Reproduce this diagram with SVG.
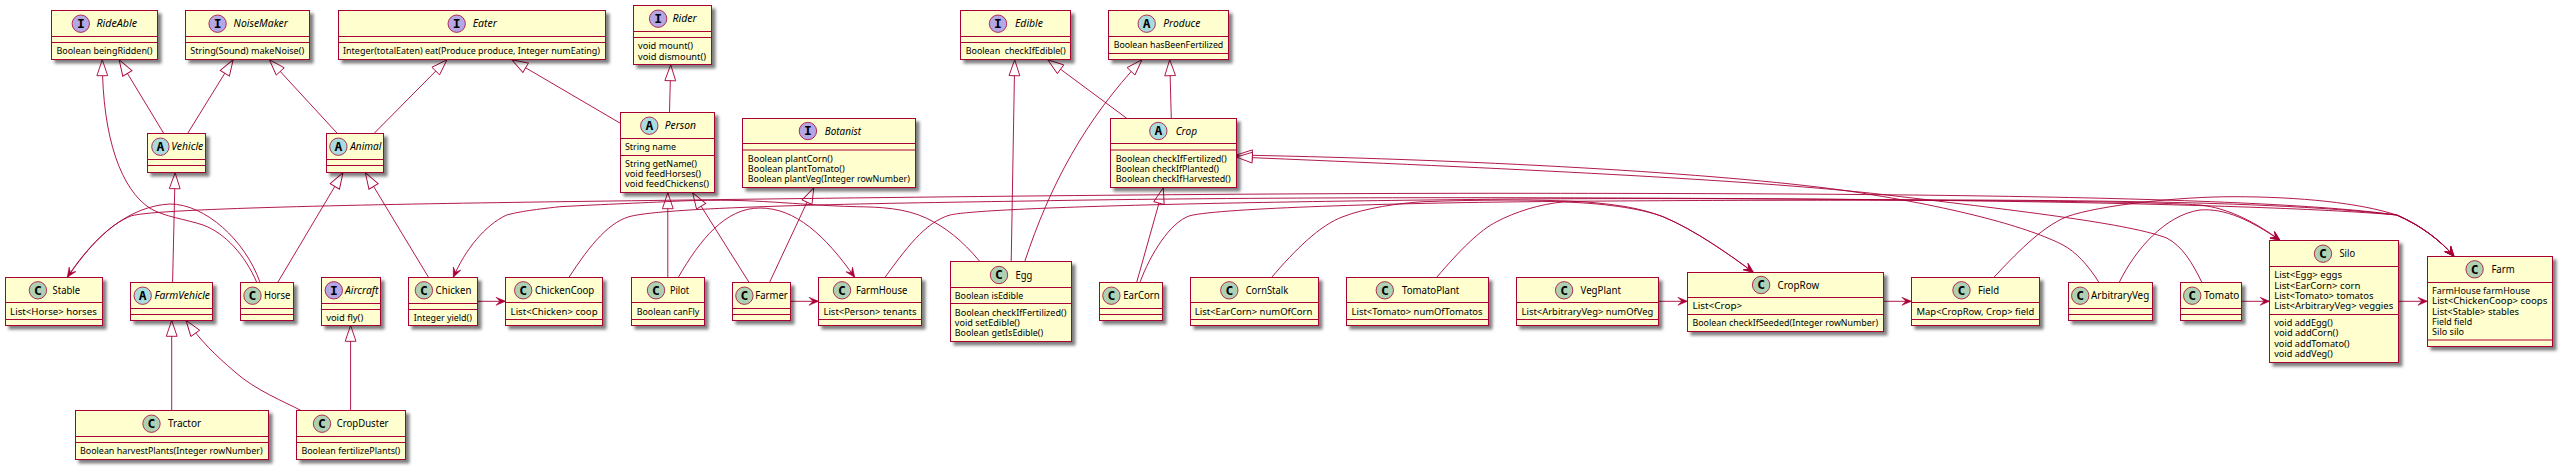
<svg xmlns="http://www.w3.org/2000/svg" width="2563" height="469" viewBox="0 0 2563 469">
<style>
.b{fill:#FEFECE;stroke:#A80036;stroke-width:1;filter:url(#s)}
.l{stroke:#A80036;stroke-width:1;fill:none}
.ci{fill:#B4A7E5;stroke:#A80036;stroke-width:.8}
.ca{fill:#A9DCDF;stroke:#A80036;stroke-width:.8}
.cc{fill:#ADD1B2;stroke:#A80036;stroke-width:.8}
.g{font-family:"DejaVu Sans Mono",monospace;font-weight:bold;font-size:13px;text-anchor:middle;fill:#000}
.n{font-family:"Noto Sans","Liberation Sans",sans-serif;font-size:10px;fill:#000}
.i{font-style:italic}
.m{font-family:"Noto Sans","Liberation Sans",sans-serif;font-size:9px;fill:#000;white-space:pre}
.c{fill:none;stroke:#A80036;stroke-width:.9}
.ext{marker-end:url(#tri)}
.asc{marker-end:url(#arr)}
</style>
<defs>
<filter id="s" x="-10%" y="-10%" width="125%" height="130%"><feDropShadow dx="3.5" dy="3.5" stdDeviation="1.5" flood-color="#000" flood-opacity=".5"/></filter>
<marker id="tri" markerUnits="userSpaceOnUse" markerWidth="20" markerHeight="16" refX="17" refY="7" orient="auto" overflow="visible"><path d="M17,7 L1,1.6 L1,12.4 Z" fill="#fff" stroke="#A80036" stroke-width=".9"/></marker>
<marker id="arr" markerUnits="userSpaceOnUse" markerWidth="12" markerHeight="10" refX="10" refY="5" orient="auto" overflow="visible"><path d="M10,5 L0.5,1 L4.5,5 L0.5,9 Z" fill="#A80036" stroke="#A80036" stroke-width=".6"/></marker>
</defs>
<g id="connectors">
<path class="c ext" d="M256.7,282.3 C245,255 225,233 203,225 C185,219 165,217 150,208.3 C122,190 102.3,140 102.3,59.7"/>
<path class="c ext" d="M163.7,133.3 L119.1,59.7"/>
<path class="c ext" d="M187.7,133.3 L233.2,59.7"/>
<path class="c ext" d="M337.2,133.3 L269.4,59.7"/>
<path class="c ext" d="M374.2,133.3 L447,59.7"/>
<path class="c ext" d="M620.4,123.3 L511.8,59.7"/>
<path class="c ext" d="M669.5,112.3 L670.7,64.7"/>
<path class="c ext" d="M172.6,282.3 L175.1,172.7"/>
<path class="c ext" d="M277.8,282.3 L343,172.7"/>
<path class="c ext" d="M428.5,277.3 L365.3,172.7"/>
<path class="c ext" d="M171.7,410.7 L171.7,320.3"/>
<path class="c ext" d="M301.4,410.7 C285,402 255,390 235,372 C215,355 200,340 186,320.3"/>
<path class="c ext" d="M350.6,410.7 L350.6,325.3"/>
<path class="c ext" d="M667.8,277.3 L667.8,192.7"/>
<path class="c ext" d="M749,282.3 L692.6,192.7"/>
<path class="c ext" d="M769.6,282.3 L813.8,187.7"/>
<path class="c ext" d="M1011.2,261.7 L1014.7,59.7"/>
<path class="c ext" d="M1024.7,261.7 C1050,185 1085,120 1142,59.7"/>
<path class="c ext" d="M1126.7,118.3 L1047.7,59.7"/>
<path class="c ext" d="M1171.3,118.3 L1169.7,59.7"/>
<path class="c ext" d="M1136.7,282.3 L1163.3,187.7"/>
<path class="c ext" d="M2098.9,282.3 C2088,265 2076,252 2063,245 C2030,228 1960,208 1853,191.7 C1740,175 1500,160 1236.3,155"/>
<path class="c ext" d="M2201.8,282.3 C2192,262 2182,246 2166.7,238 C2130,224 2030,212 1887,195 C1760,180 1500,168 1236.3,157"/>
<path class="c asc" d="M260,282.3 C245,240 205,204 170,204 C130,206 95,235 67.3,277.3"/>
<path class="c asc" d="M67.3,277.3 C90,245 110,224 131.7,215.7 C160,208 400,204 560,201.7 C800,198.5 1200,193 1520,193.3 C1800,193.5 2250,194 2396.7,215 C2420,225 2440,240 2454,256.3"/>
<path class="c asc" d="M569,277.3 C590,245 610,220 633.3,215.7 C680,206 900,203 1030,201 C1250,197 1520,197 1800,199 C2000,201 2250,198 2396.7,215 C2420,225 2440,240 2454,256.3"/>
<path class="c asc" d="M885,277.3 C905,250 925,222 950,215 C980,208 1200,202 1520,199 C1800,197 2250,202 2396.7,215 C2420,225 2440,240 2454,256.3"/>
<path class="c asc" d="M1993.9,277.3 C2015,255 2040,228 2066.7,216.7 C2100,205 2180,196.7 2233,196.7 C2300,196.7 2360,203 2396.7,215 C2420,225 2440,240 2454,256.3"/>
<path class="c asc" d="M980,261.7 C962,240 945,227 926.7,218.3 C905,208 880,207 856.7,206.7 C790,205 760,198 680,201 C640,203 590,205 560,206.7 C530,210 518,212 506.7,215 C485,225 465,250 453.3,277.3"/>
<path class="c asc" d="M678.3,277.3 C700,240 725,208 760,208 C795,208 825,235 854.7,277.3"/>
<path class="c asc" d="M1140,282.3 C1150,255 1170,222 1190,215.7 C1220,208 1400,203 1530,201.7 C1800,199 2130,200 2200,205 C2228,208 2255,222 2280,240.3"/>
<path class="c asc" d="M2119.3,282.3 C2135,250 2165,215 2200,210 C2225,208 2250,220 2280,240.3"/>
<path class="c asc" d="M1271.7,277.3 C1295,250 1320,225 1343,216.7 C1365,208 1400,203 1423,201.7 C1470,200 1540,199 1586.7,202 C1620,205 1640,208 1663,216.7 C1695,230 1730,255 1753.3,272.3"/>
<path class="c asc" d="M1436.7,277.3 C1460,250 1480,230 1496.7,221.7 C1515,212 1540,204 1563,202 C1600,203 1640,208 1663,216.7 C1695,230 1730,255 1753.3,272.3"/>
<path class="c asc" d="M477.7,301.3 L505.5,301.3"/>
<path class="c asc" d="M790.3,301.3 L818.5,301.3"/>
<path class="c asc" d="M1658.4,301.3 L1687.4,301.3"/>
<path class="c asc" d="M1883.6,301.3 L1911.4,301.3"/>
<path class="c asc" d="M2241.4,301.3 L2269.6,301.3"/>
<path class="c asc" d="M2398.4,301.3 L2427.4,301.3"/>
</g>
<g id="RideAble"><rect class="b" x="51.5" y="10.5" width="106" height="49"/><path class="l" d="M51.5,36.5H157.5M51.5,42.5H157.5"/><circle class="ci" cx="80.8" cy="23.7" r="8.7"/><text class="g" x="80.8" y="28">I</text><text class="n i" x="96.4" y="27.3" textLength="40.8" lengthAdjust="spacingAndGlyphs">RideAble</text><text class="m" x="56.4" y="54.4" textLength="96" lengthAdjust="spacingAndGlyphs">Boolean beingRidden()</text></g>
<g id="NoiseMaker"><rect class="b" x="185.5" y="10.5" width="124" height="49"/><path class="l" d="M185.5,36.5H309.5M185.5,42.5H309.5"/><circle class="ci" cx="217.6" cy="23.7" r="8.7"/><text class="g" x="217.6" y="28">I</text><text class="n i" x="233.6" y="27.3" textLength="54.3" lengthAdjust="spacingAndGlyphs">NoiseMaker</text><text class="m" x="190.2" y="54.4" textLength="114" lengthAdjust="spacingAndGlyphs">String(Sound) makeNoise()</text></g>
<g id="Eater"><rect class="b" x="338.5" y="10.5" width="267" height="49"/><path class="l" d="M338.5,36.5H605.5M338.5,42.5H605.5"/><circle class="ci" cx="456.7" cy="23.7" r="8.7"/><text class="g" x="456.7" y="28">I</text><text class="n i" x="472.7" y="27.3" textLength="24.3" lengthAdjust="spacingAndGlyphs">Eater</text><text class="m" x="343" y="54.4" textLength="257" lengthAdjust="spacingAndGlyphs">Integer(totalEaten) eat(Produce produce, Integer numEating)</text></g>
<g id="Rider"><rect class="b" x="633.5" y="5.5" width="78" height="59"/><path class="l" d="M633.5,31.5H711.5M633.5,37.5H711.5"/><circle class="ci" cx="658.1" cy="18.7" r="8.7"/><text class="g" x="658.1" y="23">I</text><text class="n i" x="672.4" y="22.4" textLength="24.4" lengthAdjust="spacingAndGlyphs">Rider</text><text class="m" x="638" y="49.3" textLength="55" lengthAdjust="spacingAndGlyphs">void mount()</text><text class="m" x="638" y="59.7" textLength="68" lengthAdjust="spacingAndGlyphs">void dismount()</text></g>
<g id="Edible"><rect class="b" x="960.5" y="10.5" width="110" height="49"/><path class="l" d="M960.5,36.5H1070.5M960.5,42.5H1070.5"/><circle class="ci" cx="998" cy="23.7" r="8.7"/><text class="g" x="998" y="28">I</text><text class="n i" x="1015" y="27.3" textLength="28" lengthAdjust="spacingAndGlyphs">Edible</text><text class="m" x="965.7" y="54.4" textLength="100" lengthAdjust="spacingAndGlyphs" xml:space="preserve">Boolean  checkIfEdible()</text></g>
<g id="Produce"><rect class="b" x="1108.5" y="10.5" width="120" height="49"/><path class="l" d="M1108.5,36.5H1228.5M1108.5,53.5H1228.5"/><circle class="ca" cx="1146.7" cy="23.7" r="8.7"/><text class="g" x="1146.7" y="28">A</text><text class="n i" x="1163.3" y="27.3" textLength="37" lengthAdjust="spacingAndGlyphs">Produce</text><text class="m" x="1113.7" y="48" textLength="109.6" lengthAdjust="spacingAndGlyphs">Boolean hasBeenFertilized</text></g>
<g id="Vehicle"><rect class="b" x="147.5" y="133.5" width="58" height="39"/><path class="l" d="M147.5,159.5H205.5M147.5,165.5H205.5"/><circle class="ca" cx="160.4" cy="146.7" r="8.7"/><text class="g" x="160.4" y="151">A</text><text class="n i" x="171.3" y="150.4" textLength="32" lengthAdjust="spacingAndGlyphs">Vehicle</text></g>
<g id="Animal"><rect class="b" x="326.5" y="133.5" width="57" height="39"/><path class="l" d="M326.5,159.5H383.5M326.5,165.5H383.5"/><circle class="ca" cx="338.4" cy="146.7" r="8.7"/><text class="g" x="338.4" y="151">A</text><text class="n i" x="350.2" y="150.4" textLength="31.1" lengthAdjust="spacingAndGlyphs">Animal</text></g>
<g id="Person"><rect class="b" x="620.5" y="112.5" width="94" height="80"/><path class="l" d="M620.5,138.5H714.5M620.5,155.5H714.5"/><circle class="ca" cx="649.3" cy="125.7" r="8.7"/><text class="g" x="649.3" y="130">A</text><text class="n i" x="664.8" y="129.3" textLength="31.2" lengthAdjust="spacingAndGlyphs">Person</text><text class="m" x="625" y="150" textLength="51" lengthAdjust="spacingAndGlyphs">String name</text><text class="m" x="625" y="166.7" textLength="72" lengthAdjust="spacingAndGlyphs">String getName()</text><text class="m" x="625" y="177" textLength="76" lengthAdjust="spacingAndGlyphs">void feedHorses()</text><text class="m" x="625" y="187.3" textLength="84" lengthAdjust="spacingAndGlyphs">void feedChickens()</text></g>
<g id="Botanist"><rect class="b" x="742.5" y="118.5" width="173" height="69"/><path class="l" d="M742.5,143.5H915.5M742.5,150H915.5"/><circle class="ci" cx="807.9" cy="131" r="8.7"/><text class="g" x="807.9" y="135.3">I</text><text class="n i" x="824.8" y="134.8" textLength="36.2" lengthAdjust="spacingAndGlyphs">Botanist</text><text class="m" x="747.8" y="161.7" textLength="85" lengthAdjust="spacingAndGlyphs">Boolean plantCorn()</text><text class="m" x="747.8" y="172" textLength="97" lengthAdjust="spacingAndGlyphs">Boolean plantTomato()</text><text class="m" x="747.8" y="182.3" textLength="162" lengthAdjust="spacingAndGlyphs">Boolean plantVeg(Integer rowNumber)</text></g>
<g id="Crop"><rect class="b" x="1110.5" y="118.5" width="126" height="69"/><path class="l" d="M1110.5,143.5H1236.5M1110.5,150H1236.5"/><circle class="ca" cx="1158.3" cy="131" r="8.7"/><text class="g" x="1158.3" y="135.3">A</text><text class="n i" x="1175.7" y="134.8" textLength="21.3" lengthAdjust="spacingAndGlyphs">Crop</text><text class="m" x="1115.7" y="161.7" textLength="111" lengthAdjust="spacingAndGlyphs">Boolean checkIfFertilized()</text><text class="m" x="1115.7" y="172" textLength="103.3" lengthAdjust="spacingAndGlyphs">Boolean checkIfPlanted()</text><text class="m" x="1115.7" y="182.3" textLength="115" lengthAdjust="spacingAndGlyphs">Boolean checkIfHarvested()</text></g>
<g id="Stable"><rect class="b" x="5.5" y="277.5" width="97" height="48"/><path class="l" d="M5.5,302.5H102.5M5.5,319.5H102.5"/><circle class="cc" cx="37.9" cy="290.3" r="8.7"/><text class="g" x="37.9" y="294.6">C</text><text class="n" x="52.6" y="294" textLength="27.4" lengthAdjust="spacingAndGlyphs">Stable</text><text class="m" x="10.1" y="314.7" textLength="86.7" lengthAdjust="spacingAndGlyphs">List&lt;Horse&gt; horses</text></g>
<g id="FarmVehicle"><rect class="b" x="130.5" y="282.5" width="82" height="38"/><path class="l" d="M130.5,308.5H212.5M130.5,314.5H212.5"/><circle class="ca" cx="142.7" cy="295.7" r="8.7"/><text class="g" x="142.7" y="300">A</text><text class="n i" x="154.5" y="299.4" textLength="55.5" lengthAdjust="spacingAndGlyphs">FarmVehicle</text></g>
<g id="Horse"><rect class="b" x="240.5" y="282.5" width="53" height="38"/><path class="l" d="M240.5,308.5H293.5M240.5,314.5H293.5"/><circle class="cc" cx="252.5" cy="295.7" r="8.7"/><text class="g" x="252.5" y="300">C</text><text class="n" x="263.9" y="299.4" textLength="26.5" lengthAdjust="spacingAndGlyphs">Horse</text></g>
<g id="Aircraft"><rect class="b" x="321.5" y="277.5" width="59" height="48"/><path class="l" d="M321.5,303.5H380.5M321.5,309.5H380.5"/><circle class="ci" cx="333.8" cy="290.3" r="8.7"/><text class="g" x="333.8" y="294.6">I</text><text class="n i" x="345.1" y="294" textLength="33.3" lengthAdjust="spacingAndGlyphs">Aircraft</text><text class="m" x="326.2" y="320.7" textLength="37" lengthAdjust="spacingAndGlyphs">void fly()</text></g>
<g id="Chicken"><rect class="b" x="408.5" y="277.5" width="69" height="48"/><path class="l" d="M408.5,303.5H477.5M408.5,309.5H477.5"/><circle class="cc" cx="423.9" cy="290.3" r="8.7"/><text class="g" x="423.9" y="294.6">C</text><text class="n" x="435.6" y="294" textLength="35.8" lengthAdjust="spacingAndGlyphs">Chicken</text><text class="m" x="413.8" y="320.7" textLength="58" lengthAdjust="spacingAndGlyphs">Integer yield()</text></g>
<g id="ChickenCoop"><rect class="b" x="505.5" y="277.5" width="97" height="48"/><path class="l" d="M505.5,302.5H602.5M505.5,319.5H602.5"/><circle class="cc" cx="523.2" cy="290.3" r="8.7"/><text class="g" x="523.2" y="294.6">C</text><text class="n" x="535" y="294" textLength="59.3" lengthAdjust="spacingAndGlyphs">ChickenCoop</text><text class="m" x="510.6" y="314.7" textLength="87" lengthAdjust="spacingAndGlyphs">List&lt;Chicken&gt; coop</text></g>
<g id="Pilot"><rect class="b" x="631.5" y="277.5" width="73" height="48"/><path class="l" d="M631.5,302.5H704.5M631.5,319.5H704.5"/><circle class="cc" cx="656" cy="290.3" r="8.7"/><text class="g" x="656" y="294.6">C</text><text class="n" x="669.9" y="294" textLength="19.3" lengthAdjust="spacingAndGlyphs">Pilot</text><text class="m" x="636.7" y="314.7" textLength="62.6" lengthAdjust="spacingAndGlyphs">Boolean canFly</text></g>
<g id="Farmer"><rect class="b" x="732.5" y="282.5" width="58" height="38"/><path class="l" d="M732.5,308.5H790.5M732.5,314.5H790.5"/><circle class="cc" cx="744.4" cy="295.7" r="8.7"/><text class="g" x="744.4" y="300">C</text><text class="n" x="755.3" y="299.4" textLength="32.4" lengthAdjust="spacingAndGlyphs">Farmer</text></g>
<g id="FarmHouse"><rect class="b" x="818.5" y="277.5" width="103" height="48"/><path class="l" d="M818.5,302.5H921.5M818.5,319.5H921.5"/><circle class="cc" cx="842" cy="290.3" r="8.7"/><text class="g" x="842" y="294.6">C</text><text class="n" x="855.9" y="294" textLength="51.4" lengthAdjust="spacingAndGlyphs">FarmHouse</text><text class="m" x="823.5" y="314.7" textLength="93" lengthAdjust="spacingAndGlyphs">List&lt;Person&gt; tenants</text></g>
<g id="Egg"><rect class="b" x="950.5" y="261.5" width="121" height="80"/><path class="l" d="M950.5,287.5H1071.5M950.5,303.5H1071.5"/><circle class="cc" cx="999" cy="275" r="8.7"/><text class="g" x="999" y="279.3">C</text><text class="n" x="1015.5" y="278.7" textLength="16.8" lengthAdjust="spacingAndGlyphs">Egg</text><text class="m" x="954.8" y="298.7" textLength="68.6" lengthAdjust="spacingAndGlyphs">Boolean isEdible</text><text class="m" x="954.8" y="315.7" textLength="111.6" lengthAdjust="spacingAndGlyphs">Boolean checkIfFertilized()</text><text class="m" x="954.8" y="326" textLength="65" lengthAdjust="spacingAndGlyphs">void setEdible()</text><text class="m" x="954.8" y="336.3" textLength="88.4" lengthAdjust="spacingAndGlyphs">Boolean getIsEdible()</text></g>
<g id="EarCorn"><rect class="b" x="1099.5" y="282.5" width="63" height="38"/><path class="l" d="M1099.5,308.5H1162.5M1099.5,314.5H1162.5"/><circle class="cc" cx="1111.4" cy="295.7" r="8.7"/><text class="g" x="1111.4" y="300">C</text><text class="n" x="1123.2" y="299.4" textLength="36.6" lengthAdjust="spacingAndGlyphs">EarCorn</text></g>
<g id="CornStalk"><rect class="b" x="1190.5" y="277.5" width="128" height="48"/><path class="l" d="M1190.5,302.5H1318.5M1190.5,319.5H1318.5"/><circle class="cc" cx="1229.3" cy="290.3" r="8.7"/><text class="g" x="1229.3" y="294.6">C</text><text class="n" x="1245.7" y="294" textLength="42.5" lengthAdjust="spacingAndGlyphs">CornStalk</text><text class="m" x="1194.8" y="314.7" textLength="117.6" lengthAdjust="spacingAndGlyphs">List&lt;EarCorn&gt; numOfCorn</text></g>
<g id="TomatoPlant"><rect class="b" x="1346.5" y="277.5" width="142" height="48"/><path class="l" d="M1346.5,302.5H1488.5M1346.5,319.5H1488.5"/><circle class="cc" cx="1384.8" cy="290.3" r="8.7"/><text class="g" x="1384.8" y="294.6">C</text><text class="n" x="1402" y="294" textLength="57.3" lengthAdjust="spacingAndGlyphs">TomatoPlant</text><text class="m" x="1351.6" y="314.7" textLength="131" lengthAdjust="spacingAndGlyphs">List&lt;Tomato&gt; numOfTomatos</text></g>
<g id="VegPlant"><rect class="b" x="1516.5" y="277.5" width="142" height="48"/><path class="l" d="M1516.5,302.5H1658.5M1516.5,319.5H1658.5"/><circle class="cc" cx="1564.1" cy="290.3" r="8.7"/><text class="g" x="1564.1" y="294.6">C</text><text class="n" x="1580.5" y="294" textLength="40.4" lengthAdjust="spacingAndGlyphs">VegPlant</text><text class="m" x="1521.6" y="314.7" textLength="131.7" lengthAdjust="spacingAndGlyphs">List&lt;ArbitraryVeg&gt; numOfVeg</text></g>
<g id="CropRow"><rect class="b" x="1687.5" y="272.5" width="196" height="59"/><path class="l" d="M1687.5,297.5H1883.5M1687.5,314.5H1883.5"/><circle class="cc" cx="1761.1" cy="285" r="8.7"/><text class="g" x="1761.1" y="289.3">C</text><text class="n" x="1777.5" y="288.7" textLength="41.7" lengthAdjust="spacingAndGlyphs">CropRow</text><text class="m" x="1692.5" y="309.3" textLength="49.7" lengthAdjust="spacingAndGlyphs">List&lt;Crop&gt;</text><text class="m" x="1692.5" y="326" textLength="185.6" lengthAdjust="spacingAndGlyphs">Boolean checkIfSeeded(Integer rowNumber)</text></g>
<g id="Field"><rect class="b" x="1911.5" y="277.5" width="128" height="48"/><path class="l" d="M1911.5,302.5H2039.5M1911.5,319.5H2039.5"/><circle class="cc" cx="1961.5" cy="290.3" r="8.7"/><text class="g" x="1961.5" y="294.6">C</text><text class="n" x="1977.9" y="294" textLength="21.1" lengthAdjust="spacingAndGlyphs">Field</text><text class="m" x="1916.5" y="314.7" textLength="117.8" lengthAdjust="spacingAndGlyphs">Map&lt;CropRow, Crop&gt; field</text></g>
<g id="ArbitraryVeg"><rect class="b" x="2068.5" y="282.5" width="84" height="38"/><path class="l" d="M2068.5,308.5H2152.5M2068.5,314.5H2152.5"/><circle class="cc" cx="2080.2" cy="295.7" r="8.7"/><text class="g" x="2080.2" y="300">C</text><text class="n" x="2091.1" y="299.4" textLength="58.1" lengthAdjust="spacingAndGlyphs">ArbitraryVeg</text></g>
<g id="Tomato"><rect class="b" x="2180.5" y="282.5" width="61" height="38"/><path class="l" d="M2180.5,308.5H2241.5M2180.5,314.5H2241.5"/><circle class="cc" cx="2192.2" cy="295.7" r="8.7"/><text class="g" x="2192.2" y="300">C</text><text class="n" x="2204" y="299.4" textLength="35.3" lengthAdjust="spacingAndGlyphs">Tomato</text></g>
<g id="Silo"><rect class="b" x="2269.5" y="240.5" width="129" height="122"/><path class="l" d="M2269.5,266.5H2398.5M2269.5,314.5H2398.5"/><circle class="cc" cx="2323" cy="253.7" r="8.7"/><text class="g" x="2323" y="258">C</text><text class="n" x="2339.5" y="257.4" textLength="15.5" lengthAdjust="spacingAndGlyphs">Silo</text><text class="m" x="2274.2" y="278.3" textLength="67.8" lengthAdjust="spacingAndGlyphs">List&lt;Egg&gt; eggs</text><text class="m" x="2274.2" y="288.7" textLength="86.3" lengthAdjust="spacingAndGlyphs">List&lt;EarCorn&gt; corn</text><text class="m" x="2274.2" y="299" textLength="99.3" lengthAdjust="spacingAndGlyphs">List&lt;Tomato&gt; tomatos</text><text class="m" x="2274.2" y="309.3" textLength="119" lengthAdjust="spacingAndGlyphs">List&lt;ArbitraryVeg&gt; veggies</text><text class="m" x="2274.2" y="326" textLength="58.5" lengthAdjust="spacingAndGlyphs">void addEgg()</text><text class="m" x="2274.2" y="336.3" textLength="64" lengthAdjust="spacingAndGlyphs">void addCorn()</text><text class="m" x="2274.2" y="346.7" textLength="75.3" lengthAdjust="spacingAndGlyphs">void addTomato()</text><text class="m" x="2274.2" y="357" textLength="58.5" lengthAdjust="spacingAndGlyphs">void addVeg()</text></g>
<g id="Farm"><rect class="b" x="2427.5" y="256.5" width="125" height="90"/><path class="l" d="M2427.5,282.5H2552.5M2427.5,340H2552.5"/><circle class="cc" cx="2474.6" cy="269.3" r="8.7"/><text class="g" x="2474.6" y="273.6">C</text><text class="n" x="2491.4" y="273" textLength="23.2" lengthAdjust="spacingAndGlyphs">Farm</text><text class="m" x="2432.1" y="294" textLength="98" lengthAdjust="spacingAndGlyphs">FarmHouse farmHouse</text><text class="m" x="2432.1" y="304.3" textLength="115.3" lengthAdjust="spacingAndGlyphs">List&lt;ChickenCoop&gt; coops</text><text class="m" x="2432.1" y="314.7" textLength="87" lengthAdjust="spacingAndGlyphs">List&lt;Stable&gt; stables</text><text class="m" x="2432.1" y="325" textLength="40" lengthAdjust="spacingAndGlyphs">Field field</text><text class="m" x="2432.1" y="335.3" textLength="32" lengthAdjust="spacingAndGlyphs">Silo silo</text></g>
<g id="Tractor"><rect class="b" x="75.5" y="410.5" width="193" height="49"/><path class="l" d="M75.5,436.5H268.5M75.5,442.5H268.5"/><circle class="cc" cx="151.5" cy="423.7" r="8.7"/><text class="g" x="151.5" y="428">C</text><text class="n" x="167.9" y="427.4" textLength="33.3" lengthAdjust="spacingAndGlyphs">Tractor</text><text class="m" x="80" y="454" textLength="182.6" lengthAdjust="spacingAndGlyphs">Boolean harvestPlants(Integer rowNumber)</text></g>
<g id="CropDuster"><rect class="b" x="296.5" y="410.5" width="109" height="49"/><path class="l" d="M296.5,436.5H405.5M296.5,442.5H405.5"/><circle class="cc" cx="322" cy="423.7" r="8.7"/><text class="g" x="322" y="428">C</text><text class="n" x="336.7" y="427.4" textLength="51.8" lengthAdjust="spacingAndGlyphs">CropDuster</text><text class="m" x="301.4" y="454" textLength="98.9" lengthAdjust="spacingAndGlyphs">Boolean fertilizePlants()</text></g>
</svg>
